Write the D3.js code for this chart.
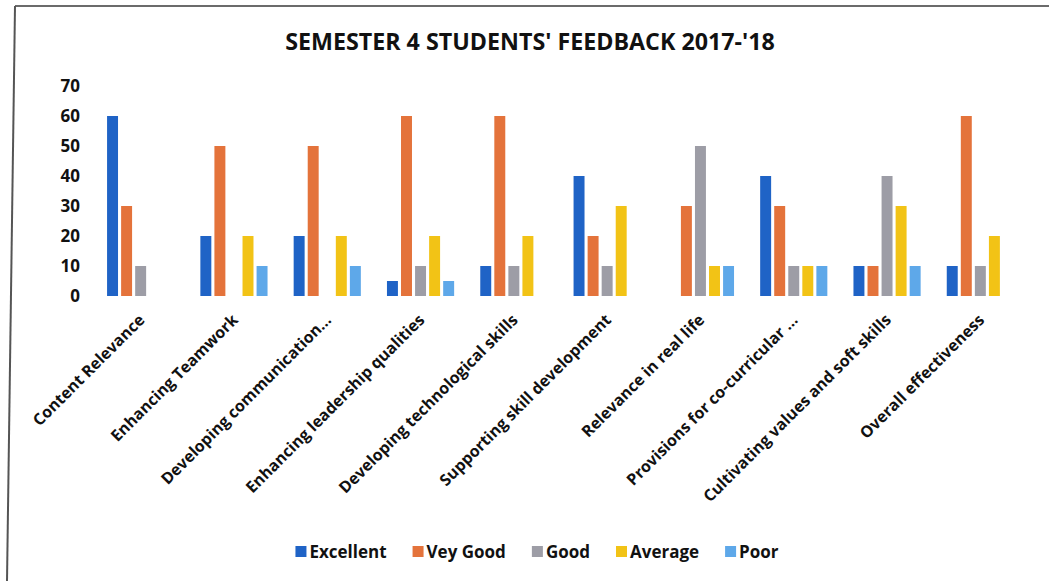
<!DOCTYPE html>
<html>
<head>
<meta charset="utf-8">
<script src="https://cdn.jsdelivr.net/npm/d3@7"></script>
<style>
  html, body { margin: 0; padding: 0; background: #ffffff; }
  svg { display: block; }
  text { font-family: "Open Sans", "Noto Sans", sans-serif; fill: #111; }
</style>
</head>
<body>
<svg id="chart" width="1049" height="581"></svg>
<script>
const title = "SEMESTER 4 STUDENTS' FEEDBACK 2017-'18";
const categories = [
  "Content Relevance",
  "Enhancing Teamwork",
  "Developing communication...",
  "Enhancing leadership qualities",
  "Developing technological skills",
  "Supporting skill development",
  "Relevance in real life",
  "Provisions for co-curricular ...",
  "Cultivating values and soft skills",
  "Overall effectiveness"
];
const seriesNames = ["Excellent", "Vey Good", "Good", "Average", "Poor"];
const excellent = [60, 20, 20, 5, 10, 40, 0, 40, 10, 10];
const veryGood  = [30, 50, 50, 60, 60, 20, 30, 30, 10, 60];
const good      = [10, 0, 0, 10, 10, 10, 50, 10, 40, 10];
const average   = [0, 20, 20, 20, 20, 30, 10, 10, 30, 20];
const poor      = [0, 10, 10, 5, 0, 0, 10, 10, 10, 0];
const yTicks = [0, 10, 20, 30, 40, 50, 60, 70];
const colors = ["#1f63c6", "#e4733b", "#9d9da6", "#f2c316", "#5ea8e9"];

const seriesValues = [excellent, veryGood, good, average, poor];

const svg = d3.select("#chart");

// frame (photo edge of printed chart)
svg.append("line").attr("x1", 15).attr("y1", 6).attr("x2", 1049).attr("y2", 6)
  .attr("stroke", "#3a3a3a").attr("stroke-width", 1.5);
svg.append("line").attr("x1", 15).attr("y1", 6).attr("x2", 7).attr("y2", 581)
  .attr("stroke", "#555").attr("stroke-width", 2);

const x0 = d3.scaleBand().domain(categories).range([94, 1027])
  .paddingInner(0.28).paddingOuter(0.14);
const x1 = d3.scaleBand().domain(seriesNames).range([0, x0.bandwidth()])
  .paddingInner(0.22);
const y = d3.scaleLinear().domain([0, 70]).range([296, 86]);
const color = d3.scaleOrdinal().domain(seriesNames).range(colors);

// title
const t = svg.append("text").attr("x", 530).attr("y", 50)
  .attr("text-anchor", "middle").attr("font-weight", 700)
  .attr("font-size", 20).text(title);
const tw = t.node().getComputedTextLength();
t.attr("font-size", 20 * 490 / tw);

// y axis (labels only)
const yAxis = d3.axisLeft(y).tickValues(yTicks).tickSize(0).tickPadding(0);
const gy = svg.append("g").attr("transform", "translate(80,0)").call(yAxis);
gy.select(".domain").remove();
gy.selectAll("text").attr("font-size", 17).attr("font-weight", 700)
  .attr("font-family", "'Open Sans', sans-serif").attr("fill", "#111");

// bars
const groups = svg.append("g").selectAll("g").data(categories).join("g")
  .attr("transform", d => `translate(${x0(d)},0)`);
groups.selectAll("rect")
  .data((d, i) => seriesNames.map((s, k) => ({ s, v: seriesValues[k][i] })))
  .join("rect")
  .attr("x", d => x1(d.s))
  .attr("width", x1.bandwidth())
  .attr("y", d => y(d.v))
  .attr("height", d => y(0) - y(d.v))
  .attr("fill", d => color(d.s));

// x axis labels (rotated)
const xAxis = d3.axisBottom(x0).tickSize(0).tickPadding(0);
const gx = svg.append("g").attr("transform", "translate(0,296)").call(xAxis);
gx.select(".domain").remove();
gx.selectAll(".tick text")
  .attr("font-size", 16).attr("font-weight", 700)
  .attr("font-family", "'Open Sans', sans-serif").attr("fill", "#111")
  .attr("text-anchor", "end")
  .attr("dy", 0)
  .attr("y", 0)
  .attr("transform", "translate(5,25) rotate(-45)");

// legend
const legend = svg.append("g");
let lx = 0;
seriesNames.forEach((s, i) => {
  const g = legend.append("g");
  g.append("rect").attr("x", 0).attr("y", -12).attr("width", 11).attr("height", 11)
    .attr("fill", color(s));
  const tx = g.append("text").attr("x", 14).attr("y", 0)
    .attr("font-size", 17).attr("font-weight", 700).text(s);
  const w = 14 + tx.node().getComputedTextLength();
  g.attr("transform", `translate(${lx},0)`);
  lx += w + 26;
});
const totalW = lx - 26;
legend.attr("transform", `translate(${537 - totalW / 2},558)`);
</script>
</body>
</html>
